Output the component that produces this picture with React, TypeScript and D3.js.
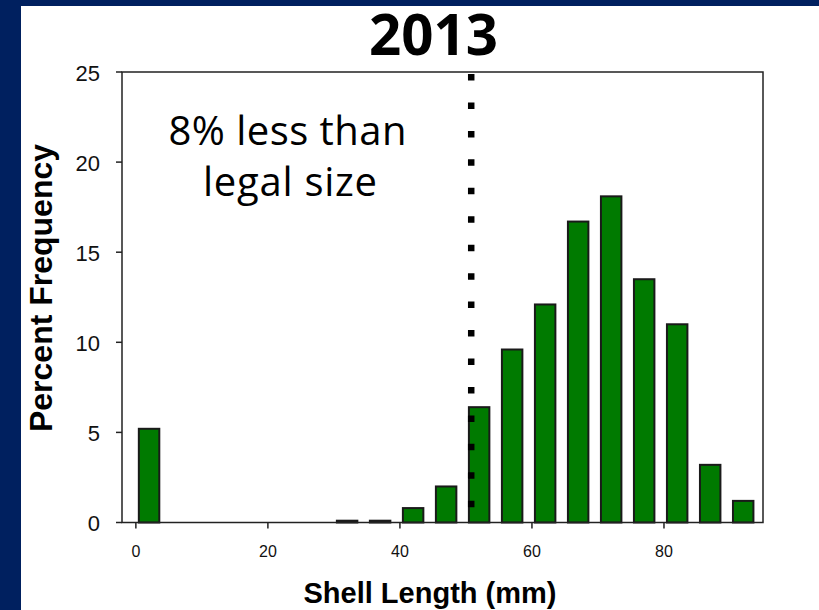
import React from "react";
import * as d3 from "d3";

const binCenters = [2, 7, 12, 17, 22, 27, 32, 37, 42, 47, 52, 57, 62, 67, 72, 77, 82, 87, 92];
const percentValues = [5.2, 0, 0, 0, 0, 0, 0.1, 0.1, 0.8, 2.0, 6.4, 9.6, 12.1, 16.7, 18.1, 13.5, 11.0, 3.2, 1.2];
const xTicks = [0, 20, 40, 60, 80];
const yTicks = [0, 5, 10, 15, 20, 25];
const legalSize = 50.8;
const titleText = "2013";
const noteLines = ["8% less than", "legal size"];
const xLabel = "Shell Length (mm)";
const yLabel = "Percent Frequency";

const W = 819;
const H = 610;
const left = 122, right = 763, top = 72, bottom = 522.5;
const barWidthUnits = 3.1;

export default function App() {
  const x = d3.scaleLinear().domain([-2.1, 95]).range([left, right]);
  const y = d3.scaleLinear().domain([0, 25]).range([bottom, top]);
  const bw = x(barWidthUnits) - x(0);
  const axisColor = "#222";
  const sans = "'Liberation Sans', Arial, sans-serif";
  const human = "'Open Sans', 'Noto Sans', sans-serif";

  return (
    <svg
      width={W}
      height={H}
      style={{ position: "absolute", left: 0, top: 0, display: "block" }}
    >
      <rect x={0} y={0} width={W} height={H} fill="#00205F" />
      <rect x={21} y={6} width={W - 21} height={H - 6} fill="#ffffff" />

      {/* bars */}
      {binCenters.map((c, i) =>
        percentValues[i] > 0 ? (
          <rect
            key={i}
            x={x(c) - bw / 2}
            y={y(percentValues[i])}
            width={bw}
            height={y(0) - y(percentValues[i])}
            fill="#007A00"
            stroke="#1a1a1a"
            strokeWidth={2}
          />
        ) : null
      )}

      {/* frame */}
      <rect x={left} y={top} width={right - left} height={bottom - top} fill="none" stroke={axisColor} strokeWidth={1.5} />

      {/* y ticks */}
      {yTicks.map((t) => (
        <g key={t}>
          <line x1={left - 6} x2={left} y1={y(t)} y2={y(t)} stroke={axisColor} strokeWidth={1.5} />
          <text x={100} y={y(t)} dy="0.4em" textAnchor="end" fontFamily={sans} fontSize={22} fill="#111">
            {t}
          </text>
        </g>
      ))}

      {/* x ticks */}
      {xTicks.map((t) => (
        <g key={t}>
          <line x1={x(t)} x2={x(t)} y1={bottom} y2={bottom + 6} stroke={axisColor} strokeWidth={1.5} />
          <text x={x(t)} y={557} textAnchor="middle" fontFamily={sans} fontSize={16} fill="#111">
            {t}
          </text>
        </g>
      ))}

      {/* legal size dotted line */}
      <line
        x1={x(legalSize)}
        x2={x(legalSize)}
        y1={top + 2}
        y2={508.5}
        stroke="#000"
        strokeWidth={6.5}
        strokeDasharray="6.5 21.95"
      />

      {/* title */}
      <text x={433.5} y={55} textAnchor="middle" fontFamily={human} fontWeight="bold" fontSize={58} textLength={129} lengthAdjust="spacingAndGlyphs" fill="#000">
        {titleText}
      </text>

      {/* annotation */}
      <text x={287.5} y={145} textAnchor="middle" fontFamily={human} fontSize={40} textLength={238} lengthAdjust="spacing" fill="#000">
        {noteLines[0]}
      </text>
      <text x={290} y={196} textAnchor="middle" fontFamily={human} fontSize={40} textLength={174} lengthAdjust="spacing" fill="#000">
        {noteLines[1]}
      </text>

      {/* axis labels */}
      <text x={430} y={603} textAnchor="middle" fontFamily={sans} fontWeight="bold" fontSize={29} fill="#000">
        {xLabel}
      </text>
      <text
        transform={`translate(52, 288) rotate(-90)`}
        textAnchor="middle"
        fontFamily={sans}
        fontWeight="bold"
        fontSize={32}
        fill="#000"
      >
        {yLabel}
      </text>
    </svg>
  );
}
